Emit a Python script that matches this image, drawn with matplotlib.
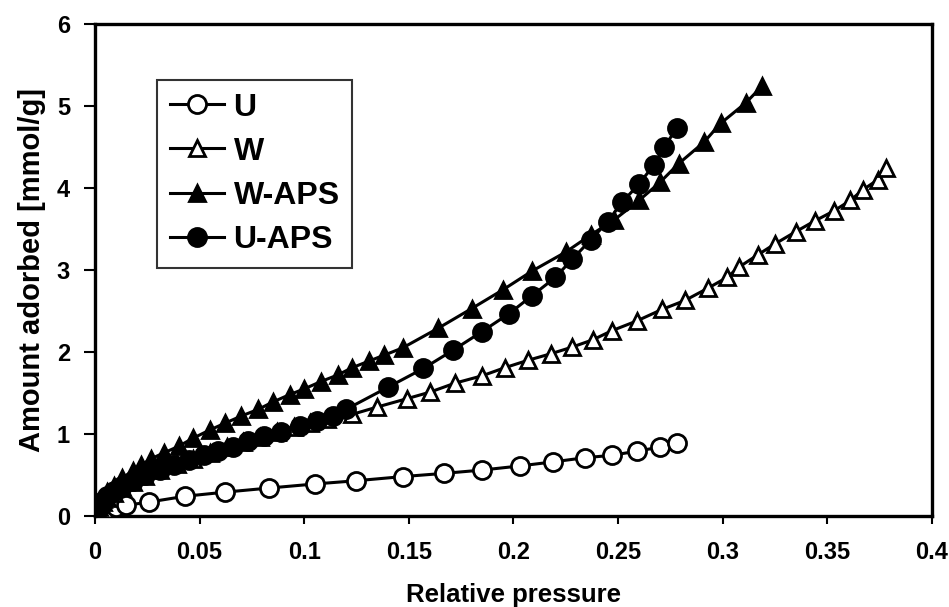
import matplotlib
matplotlib.use("Agg")
import matplotlib.pyplot as plt
from matplotlib.ticker import FuncFormatter

plt.rcParams['font.family'] = ['Liberation Sans', 'DejaVu Sans']
plt.rcParams['font.weight'] = 'bold'

# U (open circles)
u_x = [0.0, 0.001, 0.003, 0.006, 0.010, 0.015, 0.026, 0.043, 0.062, 0.083, 0.105, 0.125,
       0.147, 0.167, 0.185, 0.203, 0.219, 0.234, 0.247, 0.259, 0.270, 0.278]
u_y = [0.0, 0.02, 0.05, 0.08, 0.11, 0.13, 0.17, 0.24, 0.29, 0.34, 0.39, 0.43,
       0.48, 0.52, 0.56, 0.61, 0.66, 0.71, 0.74, 0.79, 0.84, 0.89]

# W (open triangles)
w_x = [0.0, 0.0005, 0.001, 0.002, 0.004, 0.006, 0.009, 0.013, 0.018, 0.024, 0.031, 0.039,
       0.047, 0.055, 0.063, 0.071, 0.079, 0.087, 0.095, 0.103, 0.111, 0.123, 0.135,
       0.149, 0.160, 0.172, 0.185, 0.196, 0.207, 0.218, 0.228, 0.238, 0.247, 0.259,
       0.271, 0.282, 0.293, 0.302, 0.308, 0.317, 0.325, 0.335, 0.344, 0.353, 0.361,
       0.367, 0.374, 0.378]
w_y = [0.0, 0.03, 0.06, 0.11, 0.17, 0.22, 0.28, 0.35, 0.42, 0.49, 0.56, 0.63,
       0.70, 0.77, 0.84, 0.90, 0.96, 1.02, 1.08, 1.13, 1.18, 1.24, 1.33,
       1.43, 1.51, 1.62, 1.71, 1.81, 1.90, 1.98, 2.06, 2.15, 2.26, 2.38,
       2.52, 2.63, 2.78, 2.91, 3.04, 3.19, 3.32, 3.47, 3.60, 3.72, 3.85,
       3.98, 4.10, 4.25]

# W-APS (filled triangles)
wa_x = [0.0, 0.0005, 0.001, 0.002, 0.004, 0.006, 0.009, 0.013, 0.018, 0.022, 0.027, 0.033,
        0.040, 0.047, 0.055, 0.062, 0.070, 0.078, 0.085, 0.093, 0.100, 0.108, 0.116,
        0.123, 0.131, 0.138, 0.147, 0.164, 0.180, 0.195, 0.209, 0.225, 0.237, 0.248,
        0.260, 0.270, 0.279, 0.291, 0.299, 0.311, 0.319]
wa_y = [0.0, 0.04, 0.08, 0.14, 0.21, 0.29, 0.37, 0.46, 0.55, 0.62, 0.70, 0.77,
        0.85, 0.95, 1.05, 1.13, 1.22, 1.30, 1.39, 1.48, 1.55, 1.64, 1.72,
        1.81, 1.89, 1.96, 2.05, 2.29, 2.53, 2.76, 2.99, 3.22, 3.43, 3.61,
        3.85, 4.07, 4.30, 4.56, 4.79, 5.04, 5.25]

# U-APS (filled circles)
ua_x = [0.0, 0.0005, 0.001, 0.002, 0.004, 0.006, 0.009, 0.013, 0.018, 0.024, 0.031, 0.038,
        0.045, 0.052, 0.059, 0.066, 0.073, 0.081, 0.089, 0.098, 0.106, 0.114, 0.120,
        0.140, 0.157, 0.171, 0.185, 0.198, 0.209, 0.220, 0.228, 0.237, 0.245, 0.252,
        0.260, 0.267, 0.272, 0.278]
ua_y = [0.0, 0.03, 0.07, 0.12, 0.18, 0.24, 0.30, 0.37, 0.43, 0.50, 0.56, 0.62,
        0.68, 0.74, 0.79, 0.84, 0.91, 0.98, 1.03, 1.10, 1.16, 1.22, 1.30,
        1.57, 1.80, 2.02, 2.25, 2.47, 2.69, 2.91, 3.13, 3.37, 3.59, 3.83,
        4.05, 4.28, 4.50, 4.73]

x_ticks = [0, 0.05, 0.1, 0.15, 0.2, 0.25, 0.3, 0.35, 0.4]
y_ticks = [0, 1, 2, 3, 4, 5, 6]

fig = plt.figure(figsize=(9.49, 6.07), dpi=100)
ax = fig.add_axes([0.100, 0.150, 0.882, 0.810])

lw = 2.2
mew = 2.0
ax.plot(u_x, u_y, '-o', color='black', lw=lw, ms=13, mfc='white', mec='black', mew=mew, label='U', zorder=3)
ax.plot(w_x, w_y, '-^', color='black', lw=lw, ms=12, mfc='white', mec='black', mew=mew, label='W', zorder=3)
ax.plot(wa_x, wa_y, '-^', color='black', lw=lw, ms=12, mfc='black', mec='black', mew=mew, label='W-APS', zorder=3)
ax.plot(ua_x, ua_y, '-o', color='black', lw=lw, ms=13, mfc='black', mec='black', mew=mew, label='U-APS', zorder=3)

ax.set_xlim(0, 0.4)
ax.set_ylim(0, 6)
ax.set_xticks(x_ticks)
ax.set_yticks(y_ticks)
ax.xaxis.set_major_formatter(FuncFormatter(lambda v, p: ('%g' % v)))
ax.tick_params(axis='x', direction='out', width=1.5, length=6, labelsize=17, pad=12)
ax.tick_params(axis='y', direction='out', width=1.5, length=8, labelsize=17, pad=10)
for lab in ax.get_xticklabels() + ax.get_yticklabels():
    lab.set_fontweight('bold')
for s in ax.spines.values():
    s.set_linewidth(2.4)

ax.set_xlabel('Relative pressure', fontsize=18.5, fontweight='bold', labelpad=14)
ax.set_ylabel('Amount adorbed [mmol/g]', fontsize=21, fontweight='bold', labelpad=8)

leg = ax.legend(loc='upper left', bbox_to_anchor=(0.074, 0.887), frameon=True, fancybox=False,
                edgecolor='black', handlelength=1.7, handletextpad=0.3,
                labelspacing=0.44, borderpad=0.4, borderaxespad=0.0,
                prop={'weight': 'bold', 'size': 23})
leg.get_frame().set_linewidth(1.5)

fig.savefig('out.png', dpi=100)
